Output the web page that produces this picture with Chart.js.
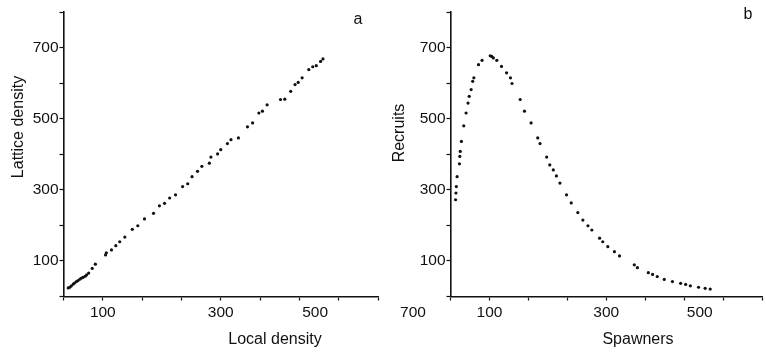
<!DOCTYPE html>
<html>
<head>
<meta charset="utf-8">
<script src="https://cdn.jsdelivr.net/npm/chart.js@4.4.0/dist/chart.umd.min.js"></script>
<style>
  html, body { margin: 0; padding: 0; background: #fff; }
  #wrap { position: relative; width: 766px; height: 354px; overflow: hidden; }
  .panel { position: absolute; top: 0; width: 383px; height: 354px; }
</style>
</head>
<body>
<div id="wrap">
  <div class="panel" style="left:0"><canvas id="chartA" width="383" height="354"></canvas></div>
  <div class="panel" style="left:383px"><canvas id="chartB" width="383" height="354"></canvas></div>
</div>
<script>
// panel a - local density vs lattice density
const localDensity   = [12, 16, 20, 25, 28, 33, 37, 42, 46, 50, 55, 59, 64, 73, 81, 107, 109, 122, 133, 143, 156, 175, 189, 206, 229, 244, 257, 270, 285, 303, 316,
                        327, 341, 352, 371, 375, 392, 400, 417, 426, 445, 468, 481, 497, 506, 518, 552, 563, 578, 589, 597, 607, 624, 634, 643, 654, 660];
const latticeDensity = [24, 26, 30, 35, 38, 42, 45, 49, 52, 54, 57, 61, 66, 79, 91, 117, 123, 131, 143, 154, 167, 189, 199, 218, 234, 255, 262, 277, 286, 309, 317,
                        337, 352, 366, 375, 392, 401, 413, 430, 441, 446, 477, 488, 516, 521, 539, 554, 555, 577, 596, 602, 615, 638, 646, 649, 661, 668];

// panel b - spawners vs recruits
const spawners = [13, 14, 15, 17, 23, 24, 25, 28, 34, 40, 45, 48, 53, 57, 60, 72, 81, 102, 106, 110, 119, 131, 144, 154, 158, 179, 190, 207, 224, 230,
                  247, 255, 264, 272, 281, 298, 310, 327, 340, 353, 363, 383, 391, 404, 421, 434, 472, 480, 508, 519, 531, 549, 570, 591, 604, 616, 637, 654, 667];
const recruits = [272, 291, 309, 337, 373, 394, 408, 436, 480, 516, 544, 563, 582, 605, 615, 652, 664, 677, 675, 671, 664, 647, 629, 615, 599, 554, 521, 488, 446, 430,
                  392, 370, 356, 339, 319, 286, 263, 236, 215, 199, 187, 164, 154, 140, 126, 114, 89, 81, 67, 62, 56, 48, 42, 37, 34, 30, 26, 23, 21];

// axis ticks (same for both panels)
const tickMarks = [0, 100, 200, 300, 400, 500, 600, 700, 800];
const yLabelValues = [100, 300, 500, 700];
const xLabelValues = [100, 400, 640];   // labels sit off the tick marks in the original
const xLabelTexts = ['100', '300', '500'];

const FONT = '"Liberation Sans", Arial, sans-serif';
const INK = '#111';

const panelText = {
  id: 'panelText',
  afterDraw(chart, args, opts) {
    const ctx = chart.ctx;
    for (const t of opts.items) {
      ctx.save();
      ctx.fillStyle = INK;
      ctx.font = t.size + 'px ' + FONT;
      ctx.textAlign = 'center';
      ctx.textBaseline = 'middle';
      ctx.translate(t.x, t.y);
      if (t.rotate) ctx.rotate(-Math.PI / 2);
      ctx.fillText(t.text, 0, 0);
      ctx.restore();
    }
  }
};

function makePanel(id, xs, ys, padLeft, padRight, texts) {
  const xTicks = tickMarks.concat(xLabelValues).filter((v, i, a) => a.indexOf(v) === i).sort((a, b) => a - b);
  return new Chart(document.getElementById(id), {
    type: 'scatter',
    data: {
      datasets: [{
        data: xs.map((x, i) => ({ x: x, y: ys[i] })),
        pointRadius: 1.6,
        pointBorderWidth: 0,
        backgroundColor: INK,
        borderColor: INK
      }]
    },
    options: {
      responsive: false,
      animation: false,
      layout: { padding: { top: 12, right: padRight, left: 0, bottom: 0 } },
      plugins: {
        legend: { display: false },
        tooltip: { enabled: false },
        panelText: { items: texts }
      },
      scales: {
        x: {
          type: 'linear',
          min: 0, max: 800,
          afterBuildTicks: s => { s.ticks = xTicks.map(v => ({ value: v })); },
          afterFit: s => { s.height = 57.5; },
          border: { color: INK, width: 1.6 },
          grid: {
            drawOnChartArea: false,
            tickLength: 4,
            tickWidth: 1.2,
            tickColor: c => tickMarks.includes(c.tick.value) ? INK : 'rgba(0,0,0,0)'
          },
          ticks: {
            autoSkip: false, maxRotation: 0, padding: 3,
            color: INK, font: { family: FONT, size: 15.5 },
            callback: v => { const k = xLabelValues.indexOf(v); return k < 0 ? '' : xLabelTexts[k]; }
          }
        },
        y: {
          type: 'linear',
          min: 0, max: 800,
          afterBuildTicks: s => { s.ticks = tickMarks.map(v => ({ value: v })); },
          afterFit: s => { s.width = padLeft; },
          border: { color: INK, width: 1.6 },
          grid: { drawOnChartArea: false, tickLength: 4, tickWidth: 1.2, tickColor: INK },
          ticks: {
            autoSkip: false, padding: 1,
            color: INK, font: { family: FONT, size: 15.5 },
            callback: v => yLabelValues.includes(v) ? String(v) : ''
          }
        }
      }
    },
    plugins: [panelText]
  });
}

makePanel('chartA', localDensity, latticeDensity, 63.5, 5, [
  { text: 'Lattice density', x: 19, y: 127, size: 16, rotate: true },
  { text: 'Local density', x: 275, y: 340, size: 16 },
  { text: 'a', x: 358, y: 20, size: 16 }
]);

makePanel('chartB', spawners, recruits, 67.5, 1, [
  { text: 'Recruits', x: 17, y: 133, size: 16, rotate: true },
  { text: 'Spawners', x: 255, y: 340, size: 16 },
  { text: 'b', x: 365, y: 15, size: 16 },
  { text: '700', x: 30, y: 313, size: 15.5 }
]);
</script>
</body>
</html>
